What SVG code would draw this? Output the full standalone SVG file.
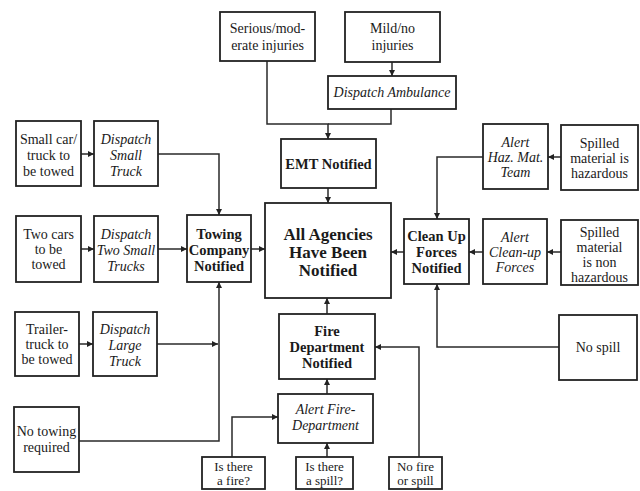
<svg xmlns="http://www.w3.org/2000/svg" width="640" height="491" viewBox="0 0 640 491">
<defs>
<marker id="ah" viewBox="0 0 6 6" refX="6" refY="3" markerWidth="6" markerHeight="6" markerUnits="userSpaceOnUse" orient="auto">
<path d="M0,0 L6,3 L0,6 z" fill="#222"/>
</marker>
<style>
.box{fill:#fff;stroke:#222;stroke-width:1.8}
text{font-family:"Liberation Serif","DejaVu Serif",serif;fill:#1a1a1a;text-anchor:middle;dominant-baseline:central}
.r{font-size:14px}
.s{font-size:13px}
.i{font-size:14px;font-style:italic}
.b{font-size:14.5px;font-weight:bold}
.bb{font-size:17px;font-weight:bold}
.c path{fill:none;stroke:#2a2a2a;stroke-width:1.5}
.c .a{marker-end:url(#ah)}
</style>
</defs>
<rect width="640" height="491" fill="#fff"/>
<g class="c" id="connectors">
<path class="a" d="M267,61 V124 H328 V139"/>
<path class="a" d="M392,62 V76"/>
<path d="M391,109 V124 H328"/>
<path class="a" d="M328,188 V203"/>
<path class="a" d="M81,154 H94"/>
<path class="a" d="M158,154 H219 V215"/>
<path class="a" d="M81,249 H94"/>
<path class="a" d="M158,249 H187"/>
<path class="a" d="M251,249 H265"/>
<path class="a" d="M79,344 H93"/>
<path class="a" d="M157,344 H218"/>
<path class="a" d="M79,441 H219 V282"/>
<path class="a" d="M327,314 V298"/>
<path class="a" d="M327,394 V379"/>
<path class="a" d="M232,457 V417 H278"/>
<path class="a" d="M327,457 V443"/>
<path class="a" d="M419,457 V347 H375"/>
<path class="a" d="M404,252 H391"/>
<path class="a" d="M483,252 H469"/>
<path class="a" d="M561,252 H547"/>
<path class="a" d="M561,157 H548"/>
<path class="a" d="M483,157 H437 V219"/>
<path class="a" d="M559,347 H437 V284"/>
</g>
<g id="serious"><rect class="box" x="220" y="12" width="95" height="49"/><text class="r" x="267.5" y="28">Serious/mod-</text><text class="r" x="267.5" y="45">erate injuries</text></g>
<g id="mild"><rect class="box" x="345" y="12" width="95" height="50"/><text class="r" x="392.5" y="28">Mild/no</text><text class="r" x="392.5" y="45">injuries</text></g>
<g id="dispatch-ambulance"><rect class="box" x="328" y="76" width="128" height="33"/><text class="i" x="392" y="92.5">Dispatch Ambulance</text></g>
<g id="emt"><rect class="box" x="281" y="139" width="95" height="49"/><text class="b" x="328.5" y="163.5">EMT Notified</text></g>
<g id="all-agencies"><rect class="box" x="265" y="203" width="126" height="95"/><text class="bb" x="328" y="234">All Agencies</text><text class="bb" x="328" y="252">Have Been</text><text class="bb" x="328" y="270">Notified</text></g>
<g id="towing"><rect class="box" x="187" y="215" width="64" height="67"/><text class="b" x="219" y="234">Towing</text><text class="b" x="219" y="250">Company</text><text class="b" x="219" y="266">Notified</text></g>
<g id="small-car"><rect class="box" x="16" y="121" width="65" height="65"/><text class="r" x="48.5" y="139">Small car/</text><text class="r" x="48.5" y="155">truck to</text><text class="r" x="48.5" y="171">be towed</text></g>
<g id="dispatch-small"><rect class="box" x="94" y="121" width="64" height="65"/><text class="i" x="126" y="139">Dispatch</text><text class="i" x="126" y="155">Small</text><text class="i" x="126" y="171">Truck</text></g>
<g id="two-cars"><rect class="box" x="16" y="216" width="65" height="66"/><text class="r" x="48.5" y="234">Two cars</text><text class="r" x="48.5" y="249">to be</text><text class="r" x="48.5" y="264">towed</text></g>
<g id="dispatch-two"><rect class="box" x="94" y="216" width="64" height="66"/><text class="i" x="126" y="234">Dispatch</text><text class="i" x="126" y="250">Two Small</text><text class="i" x="126" y="266">Trucks</text></g>
<g id="trailer"><rect class="box" x="15" y="312" width="64" height="64"/><text class="r" x="47" y="329">Trailer-</text><text class="r" x="47" y="344">truck to</text><text class="r" x="47" y="359">be towed</text></g>
<g id="dispatch-large"><rect class="box" x="93" y="312" width="64" height="64"/><text class="i" x="125" y="329">Dispatch</text><text class="i" x="125" y="345">Large</text><text class="i" x="125" y="361">Truck</text></g>
<g id="no-towing"><rect class="box" x="14" y="407" width="65" height="65"/><text class="r" x="46.5" y="431">No towing</text><text class="r" x="46.5" y="447">required</text></g>
<g id="fire-dept"><rect class="box" x="279" y="314" width="96" height="65"/><text class="b" x="327" y="331">Fire</text><text class="b" x="327" y="347">Department</text><text class="b" x="327" y="363">Notified</text></g>
<g id="alert-fire"><rect class="box" x="278" y="394" width="95" height="49"/><text class="i" x="325.5" y="409">Alert Fire-</text><text class="i" x="325.5" y="425">Department</text></g>
<g id="is-fire"><rect class="box" x="202" y="457" width="63" height="32"/><text class="s" x="233.5" y="466">Is there</text><text class="s" x="233.5" y="480">a fire?</text></g>
<g id="is-spill"><rect class="box" x="296" y="457" width="57" height="32"/><text class="s" x="324.5" y="466">Is there</text><text class="s" x="324.5" y="480">a spill?</text></g>
<g id="no-fire"><rect class="box" x="389" y="457" width="53" height="32"/><text class="s" x="415.5" y="466">No fire</text><text class="s" x="415.5" y="480">or spill</text></g>
<g id="cleanup"><rect class="box" x="404" y="219" width="65" height="65"/><text class="b" x="436.5" y="236">Clean Up</text><text class="b" x="436.5" y="252">Forces</text><text class="b" x="436.5" y="268">Notified</text></g>
<g id="alert-cleanup"><rect class="box" x="483" y="219" width="64" height="65"/><text class="i" x="515" y="237">Alert</text><text class="i" x="515" y="252">Clean-up</text><text class="i" x="515" y="267">Forces</text></g>
<g id="spilled-non"><rect class="box" x="561" y="220" width="77" height="65"/><text class="r" x="599.5" y="232">Spilled</text><text class="r" x="599.5" y="247">material</text><text class="r" x="599.5" y="262">is non</text><text class="r" x="599.5" y="277">hazardous</text></g>
<g id="alert-hazmat"><rect class="box" x="483" y="124" width="65" height="65"/><text class="i" x="515.5" y="142">Alert</text><text class="i" x="515.5" y="157">Haz. Mat.</text><text class="i" x="515.5" y="172">Team</text></g>
<g id="spilled-haz"><rect class="box" x="561" y="125" width="77" height="65"/><text class="r" x="599.5" y="143">Spilled</text><text class="r" x="599.5" y="158">material is</text><text class="r" x="599.5" y="173">hazardous</text></g>
<g id="no-spill"><rect class="box" x="559" y="315" width="78" height="65"/><text class="r" x="598" y="347">No spill</text></g>
</svg>
